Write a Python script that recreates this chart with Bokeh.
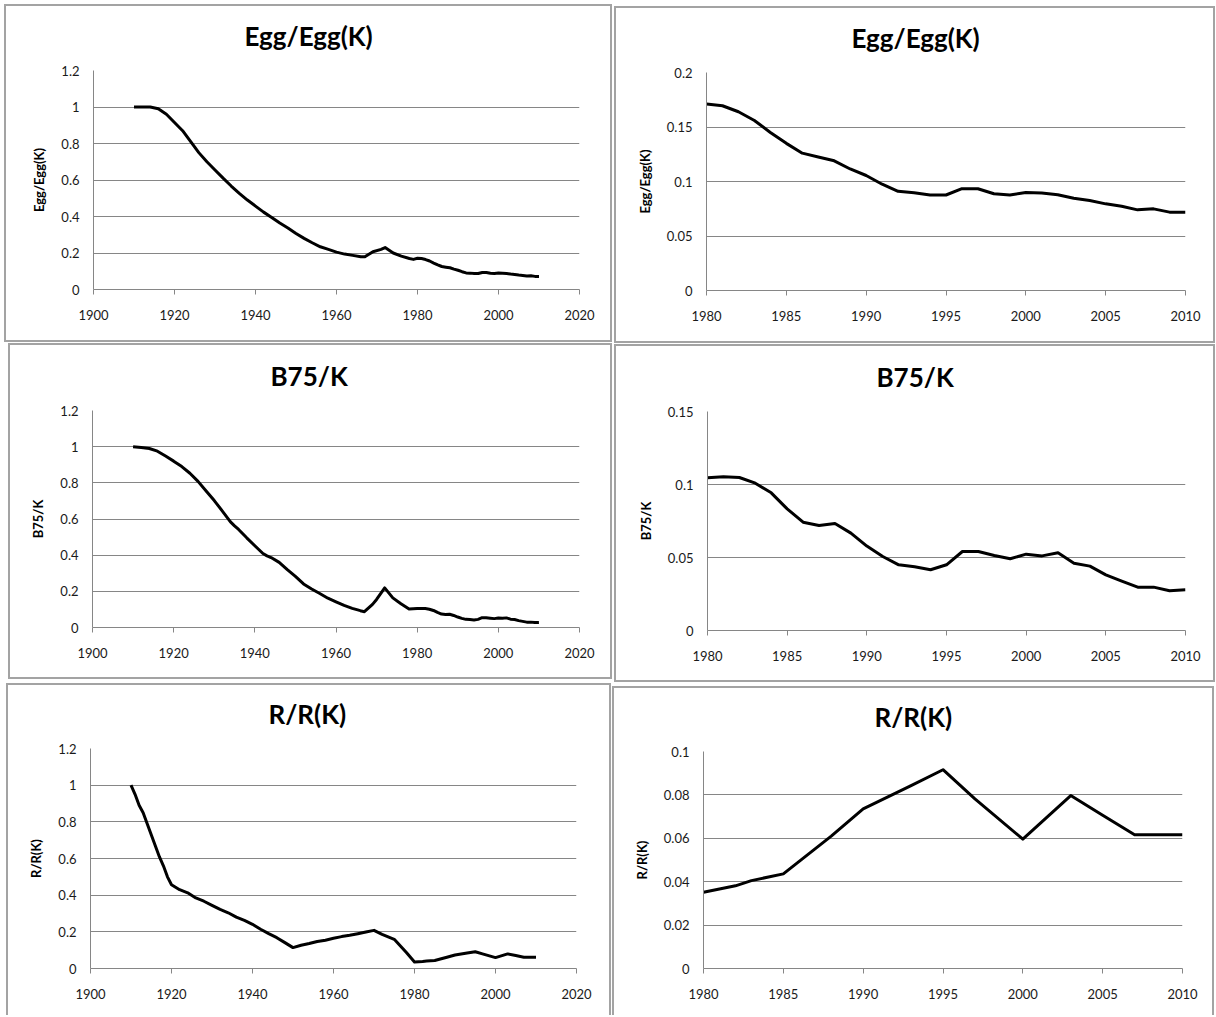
from bokeh.plotting import figure
from bokeh.layouts import column, row
from bokeh.models import Range1d, FixedTicker, CustomJSTickFormatter, Title
from bokeh.embed import file_html
from bokeh.resources import INLINE

FONT = "Lato"

# ---------------- data ----------------
egg_years = [1910, 1912, 1914, 1916, 1918, 1920, 1922, 1924, 1926, 1928, 1930, 1932, 1934, 1936,
             1938, 1940, 1942, 1944, 1946, 1948, 1950, 1952, 1954, 1956, 1958, 1960, 1962, 1964,
             1966, 1967, 1969, 1971, 1972, 1974, 1976, 1978, 1979,
             1980, 1981, 1982, 1983, 1984, 1985, 1986, 1987, 1988, 1989, 1990, 1991, 1992, 1993,
             1994, 1995, 1996, 1997, 1998, 1999, 2000, 2001, 2002, 2003, 2004, 2005, 2006, 2007,
             2008, 2009, 2010]
egg_ratio = [1.0, 1.0, 1.0, 0.99, 0.96, 0.915, 0.87, 0.81, 0.75, 0.70, 0.655, 0.61, 0.567, 0.527,
             0.49, 0.457, 0.424, 0.395, 0.364, 0.337, 0.307, 0.28, 0.256, 0.234, 0.22, 0.205, 0.194, 0.187,
             0.179, 0.179, 0.207, 0.22, 0.23, 0.2, 0.183, 0.17, 0.165,
             0.171, 0.1695, 0.164, 0.156, 0.145, 0.135, 0.126, 0.1225, 0.119, 0.1115, 0.1055, 0.0975, 0.091, 0.0897,
             0.0876, 0.0876, 0.0934, 0.0934, 0.0888, 0.0876, 0.090, 0.0894, 0.0879, 0.0846, 0.0825, 0.0795, 0.0773, 0.074,
             0.0749, 0.0719, 0.0719]

b75_years = [1910, 1912, 1914, 1916, 1918, 1920, 1922, 1924, 1926, 1928, 1930, 1932, 1934, 1935, 1936,
             1938, 1940, 1942, 1943, 1944, 1946, 1948, 1950, 1952, 1954, 1956, 1958, 1960, 1962, 1964,
             1966, 1967, 1969, 1970, 1972, 1974, 1976, 1978,
             1980, 1981, 1982, 1983, 1984, 1985, 1986, 1987, 1988, 1989, 1990, 1991, 1992, 1993,
             1994, 1995, 1996, 1997, 1998, 1999, 2000, 2001, 2002, 2003, 2004, 2005, 2006, 2007,
             2008, 2009, 2010]
b75_ratio = [1.0, 0.995, 0.99, 0.975, 0.948, 0.92, 0.89, 0.853, 0.808, 0.755, 0.702, 0.644, 0.584, 0.562, 0.542,
             0.496, 0.452, 0.409, 0.396, 0.387, 0.36, 0.32, 0.283, 0.241, 0.213, 0.188, 0.162, 0.142, 0.122, 0.106,
             0.093, 0.0875, 0.128, 0.155, 0.219, 0.164, 0.131, 0.102,
             0.1046, 0.1053, 0.1048, 0.1009, 0.0943, 0.0833, 0.0742, 0.0719, 0.0733, 0.0667, 0.0578, 0.0507, 0.045, 0.0436,
             0.0416, 0.045, 0.0541, 0.0541, 0.0514, 0.0491, 0.0523, 0.0511, 0.0532, 0.0461, 0.0441, 0.0381, 0.0338, 0.0297,
             0.0297, 0.0272, 0.0279]

r_years = [1910, 1911, 1912, 1913, 1914, 1915, 1916, 1917, 1918, 1919, 1920, 1922, 1924, 1926, 1928,
           1930, 1932, 1934, 1936, 1938, 1940, 1942, 1944, 1946, 1948, 1950, 1952, 1954, 1956, 1958,
           1960, 1962, 1964, 1966, 1968, 1970, 1972, 1975, 1978,
           1980, 1982, 1983, 1985, 1988, 1990, 1993, 1995, 1997, 2000, 2003, 2005, 2007, 2010]
r_ratio = [1.0, 0.95, 0.89, 0.85, 0.79, 0.73, 0.67, 0.61, 0.56, 0.50, 0.457, 0.43, 0.413, 0.385, 0.367,
           0.344, 0.322, 0.304, 0.28, 0.262, 0.241, 0.214, 0.19, 0.168, 0.141, 0.114, 0.127, 0.136, 0.147, 0.154,
           0.165, 0.174, 0.181, 0.19, 0.199, 0.208, 0.186, 0.159, 0.087,
           0.0351, 0.0381, 0.0405, 0.0436, 0.061, 0.0736, 0.0843, 0.0916, 0.0782, 0.0596, 0.0797, 0.0706, 0.0616, 0.0616]

long_xticks = [1900, 1920, 1940, 1960, 1980, 2000, 2020]
short_xticks = [1980, 1985, 1990, 1995, 2000, 2005, 2010]
long_yticks = [0, 0.2, 0.4, 0.6, 0.8, 1.0, 1.2]
egg_short_yticks = [0, 0.05, 0.1, 0.15, 0.2]
b75_short_yticks = [0, 0.05, 0.1, 0.15]
r_short_yticks = [0, 0.02, 0.04, 0.06, 0.08, 0.1]

GRAY = "#868686"
TEXT = "#1a1a1a"


def since(years, vals, start):
    xs = [y for y in years if y >= start]
    ys = [v for y, v in zip(years, vals) if y >= start]
    return xs, ys


def panel(title, ylabel, xs, ys, xr, yr, xticks, yticks, w, h, ml, mr, mt, mb, margin,
          title_offset, bottom_border=True):
    p = figure(width=w, height=h, output_backend="svg", toolbar_location=None,
               x_range=Range1d(*xr), y_range=Range1d(*yr),
               min_border_left=ml, min_border_right=mr, min_border_top=mt, min_border_bottom=mb,
               margin=margin, title=None)
    p.outline_line_color = None
    p.background_fill_color = "white"
    p.border_fill_color = "white"
    p.xgrid.visible = False
    p.ygrid.grid_line_color = GRAY
    p.ygrid.grid_line_width = 1

    fmt = CustomJSTickFormatter(code="return parseFloat(tick.toFixed(4)).toString();")
    p.xaxis.ticker = FixedTicker(ticks=xticks)
    p.yaxis.ticker = FixedTicker(ticks=yticks)
    p.xaxis.formatter = fmt
    p.yaxis.formatter = fmt
    for ax in (p.xaxis[0], p.yaxis[0]):
        ax.axis_line_color = GRAY
        ax.axis_line_width = 1
        ax.major_tick_line_color = GRAY
        ax.minor_tick_line_color = None
        ax.major_label_text_font = FONT
        ax.major_label_text_font_size = "13px"
        ax.major_label_text_color = TEXT
    p.xaxis.major_tick_out = 5
    p.xaxis.major_tick_in = 0
    p.xaxis.major_label_standoff = 15
    p.yaxis.major_tick_out = 0
    p.yaxis.major_tick_in = 0
    p.yaxis.major_label_standoff = 14
    p.yaxis.axis_label = ylabel
    p.yaxis.axis_label_text_font = FONT
    p.yaxis.axis_label_text_font_style = "bold"
    p.yaxis.axis_label_text_font_size = "13px"
    p.yaxis.axis_label_text_color = "black"
    p.yaxis.axis_label_standoff = 11

    p.line(xs, ys, line_color="black", line_width=3, line_join="round")

    # blank spacer nearest the frame, then the visible title further out
    p.add_layout(Title(text=" ", text_font_size="10px", standoff=1), "above")
    p.add_layout(Title(text=title, align="left", offset=title_offset, standoff=10,
                       vertical_align="bottom", text_font=FONT, text_font_style="bold",
                       text_font_size="26px", text_color="black"), "above")
    st = {"border": "2px solid #a3a3a3", "box-sizing": "border-box"}
    if not bottom_border:
        st["border-bottom"] = "none"
    p.styles = st
    return p


ex, ey = since(egg_years, egg_ratio, 1980)
bx, by = since(b75_years, b75_ratio, 1980)
rx, ry = since(r_years, r_ratio, 1980)

p1 = panel("Egg/Egg(K)", "Egg/Egg(K)", egg_years, egg_ratio, (1900, 2020), (0, 1.2), long_xticks, long_yticks,
           608, 338, 87, 35, 64, 55, (4, 0, 0, 4), 151)
p2 = panel("Egg/Egg(K)", "Egg/Egg(K)", ex, ey, (1980, 2010), (0, 0.2), short_xticks, egg_short_yticks,
           601, 337, 90, 32, 64, 53, (6, 0, 0, 2), 145)
p3 = panel("B75/K", "B75/K", b75_years, b75_ratio, (1900, 2020), (0, 1.2), long_xticks, long_yticks,
           604, 336, 82, 35, 64, 53, (0, 0, 0, 8), 178)
p4 = panel("B75/K", "B75/K", bx, by, (1980, 2010), (0, 0.15), short_xticks, b75_short_yticks,
           601, 338, 91, 32, 65, 54, (1, 0, 0, 2), 169)
p5 = panel("R/R(K)", "R/R(K)", r_years, r_ratio, (1900, 2020), (0, 1.2), long_xticks, long_yticks,
           605, 332, 82, 37, 62, 49, (1, 0, 0, 6), 178, bottom_border=False)
p6 = panel("R/R(K)", "R/R(K)", rx, ry, (1980, 2010), (0, 0.1), short_xticks, r_short_yticks,
           602, 329, 89, 34, 63, 48, (4, 0, 0, 1), 171, bottom_border=False)

layout = column(row(p1, p2), row(p3, p4), row(p5, p6))
open("out.html", "w").write(file_html(layout, INLINE))
